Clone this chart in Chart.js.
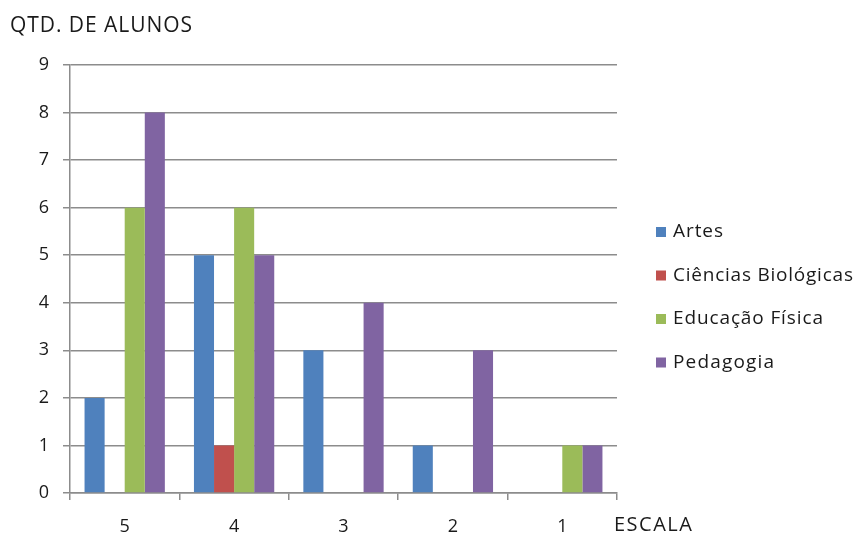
<!DOCTYPE html>
<html>
<head>
<meta charset="utf-8">
<script src="https://cdn.jsdelivr.net/npm/chart.js@4"></script>
<style>
  html, body { margin: 0; padding: 0; background: #ffffff; }
  #wrap { width: 856px; height: 536px; position: relative; }
</style>
</head>
<body>
<div id="wrap"><canvas id="c" width="856" height="536"></canvas></div>
<script>
// Escala de avaliação (5 = melhor, 1 = pior)
const categories = ['5', '4', '3', '2', '1'];

// Quantidade de alunos por curso em cada nível da escala
const artes = [2, 5, 3, 1, 0];
const cienciasBiologicas = [0, 1, 0, 0, 0];
const educacaoFisica = [6, 6, 0, 0, 1];
const pedagogia = [8, 5, 4, 3, 1];

const seriesNames = ['Artes', 'Ciências Biológicas', 'Educação Física', 'Pedagogia'];
const seriesColors = ['#4F81BD', '#C0504D', '#9BBB59', '#8064A2'];
const seriesValues = [artes, cienciasBiologicas, educacaoFisica, pedagogia];

const yTicks = [0, 1, 2, 3, 4, 5, 6, 7, 8, 9];

const FONT = 'Open Sans, Liberation Sans, sans-serif';
const TEXT = '#1a1a1a';
const AXIS = '#8c8c8c';

// Draws text with a little extra tracking so it spans the given width
function spacedText(ctx, text, x, y, width) {
  ctx.letterSpacing = '0px';
  const natural = ctx.measureText(text).width;
  const gap = Math.min(1.5, Math.max(0, (width - natural) / Math.max(1, text.length - 1)));
  ctx.letterSpacing = gap.toFixed(2) + 'px';
  ctx.fillText(text, x, y);
  ctx.letterSpacing = '0px';
}

// Titles of the axes and the legend on the right side
const decorations = {
  id: 'decorations',
  afterDraw(chart) {
    const ctx = chart.ctx;
    const area = chart.chartArea;
    ctx.save();
    ctx.fillStyle = TEXT;
    ctx.textBaseline = 'middle';
    ctx.textAlign = 'left';
    ctx.font = '21px ' + FONT;
    spacedText(ctx, 'QTD. DE ALUNOS', 10, 26, 182);
    ctx.font = '20px ' + FONT;
    spacedText(ctx, 'ESCALA', area.right - 3, 525, 79);

    ctx.font = '19px ' + FONT;
    const x0 = 656, y0 = 232, step = 43.5;
    const widths = [50, 180, 150, 101];
    chart.data.datasets.forEach((ds, i) => {
      const y = y0 + i * step;
      ctx.fillStyle = ds.backgroundColor;
      ctx.fillRect(x0, y - 5, 10, 10);
      ctx.fillStyle = TEXT;
      spacedText(ctx, ds.label, x0 + 17, y, widths[i]);
    });
    ctx.restore();
  }
};

new Chart(document.getElementById('c'), {
  type: 'bar',
  data: {
    labels: categories,
    datasets: seriesNames.map((name, i) => ({
      label: name,
      data: seriesValues[i],
      backgroundColor: seriesColors[i],
      borderWidth: 0,
      categoryPercentage: 0.734,
      barPercentage: 1.0
    }))
  },
  options: {
    responsive: false,
    animation: false,
    devicePixelRatio: 1,
    layout: { padding: { left: 0, top: 65, right: 239, bottom: 0 } },
    plugins: {
      legend: { display: false },
      tooltip: { enabled: false }
    },
    scales: {
      x: {
        offset: true,
        grid: {
          offset: true,
          drawOnChartArea: false,
          drawTicks: true,
          tickLength: 7,
          color: AXIS,
          lineWidth: 1.5
        },
        border: { color: AXIS, width: 1.5 },
        ticks: {
          color: TEXT,
          font: { family: FONT, size: 18 },
          padding: 16
        },
        afterFit(scale) { scale.height = 43; }
      },
      y: {
        min: 0,
        max: 9,
        afterBuildTicks(scale) { scale.ticks = yTicks.map(v => ({ value: v })); },
        grid: {
          color: AXIS,
          lineWidth: 1.5,
          drawTicks: true,
          tickLength: 7,
          z: 0
        },
        border: { color: AXIS, width: 1.5 },
        ticks: {
          color: TEXT,
          font: { family: FONT, size: 18 },
          padding: 14
        },
        afterFit(scale) { scale.width = 70; }
      }
    }
  },
  plugins: [decorations]
});
</script>
</body>
</html>
